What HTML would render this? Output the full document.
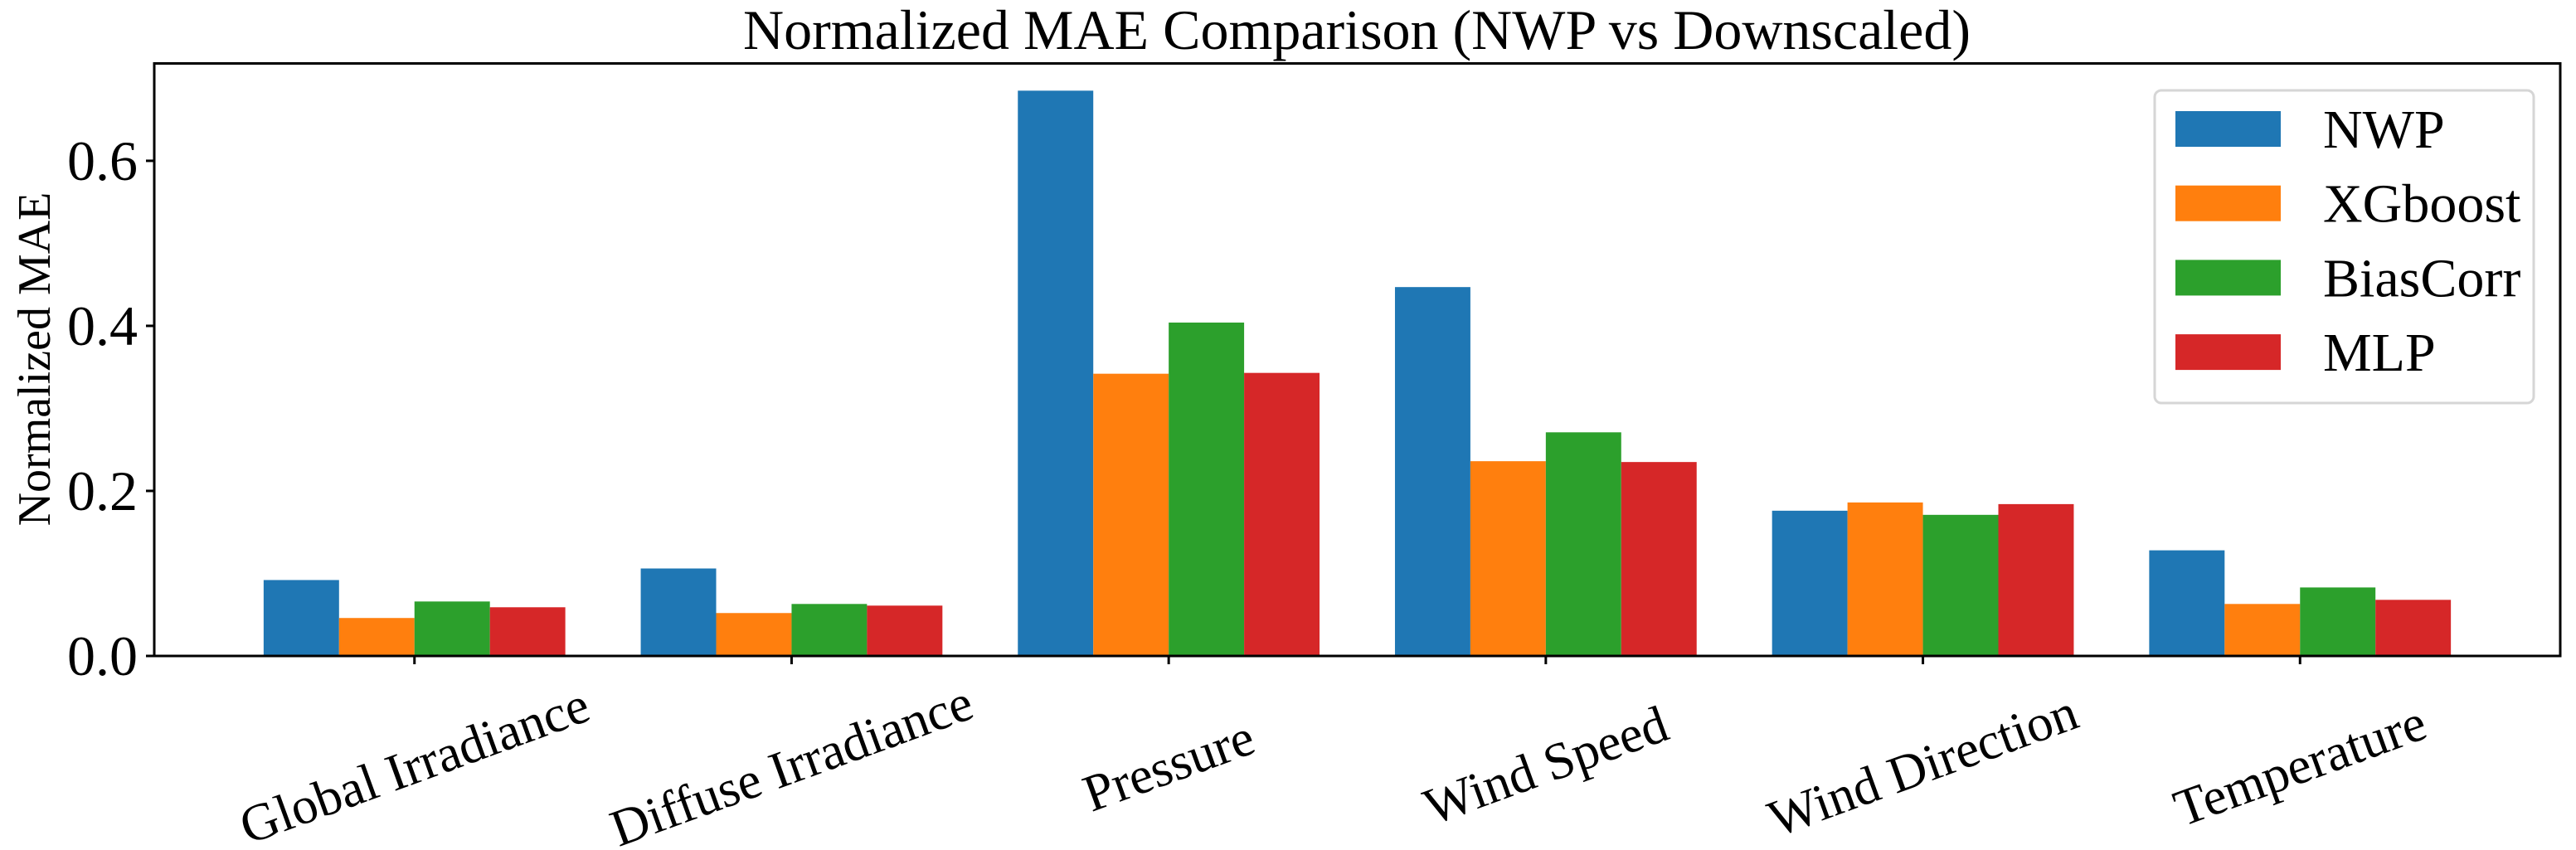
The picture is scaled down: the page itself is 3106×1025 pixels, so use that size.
<!DOCTYPE html>
<html><head><meta charset="utf-8"><style>
html,body{margin:0;padding:0;background:#fff;}
svg{display:block;font-family:"Liberation Serif","DejaVu Serif",serif;}
</style></head><body>
<svg id="chart" width="3106" height="1025" viewBox="0 0 3106 1025" xmlns="http://www.w3.org/2000/svg">
<text x="1636" y="59" font-size="68" text-anchor="middle">Normalized MAE Comparison (NWP vs Downscaled)</text>
<text transform="translate(60,433) rotate(-90)" font-size="56" text-anchor="middle">Normalized MAE</text>
<g id="bars"></g>
<g id="yticks"></g>
<g id="xticks"></g>
<rect x="186" y="76.5" width="2901" height="714.5" fill="none" stroke="#000" stroke-width="3"/>
<g id="legend"></g>
</svg>
<script>
const categories = ["Global Irradiance","Diffuse Irradiance","Pressure","Wind Speed","Wind Direction","Temperature"];
const seriesNames = ["NWP","XGboost","BiasCorr","MLP"];
const nwp = [0.092,0.106,0.685,0.447,0.176,0.128];
const xgboost = [0.046,0.052,0.342,0.236,0.186,0.063];
const biascorr = [0.066,0.063,0.404,0.271,0.171,0.083];
const mlp = [0.059,0.061,0.343,0.235,0.184,0.068];
const yTicks = [0.0,0.2,0.4,0.6];
const yTickLabels = ["0.0","0.2","0.4","0.6"];

const colors = ["#1f77b4","#ff7f0e","#2ca02c","#d62728"];
const series = [nwp,xgboost,biascorr,mlp];
const NS = "http://www.w3.org/2000/svg";
const L=186,R=3087,T=76.5,B=791, yMax=0.718;
const n = categories.length;
const step = (R-L)/(n - 1 + 2*0.69);
const x0 = L + 0.69*step;
function xScale(i){ return x0 + i*step; }
function yScale(v){ return B - v/yMax*(B-T); }
const barW = step*0.2;
function mk(tag, attrs, parent){ const e=document.createElementNS(NS,tag); for(const k in attrs) e.setAttribute(k,attrs[k]); parent.appendChild(e); return e; }
const gb=document.getElementById('bars');
series.forEach((s,si)=>{
  s.forEach((v,i)=>{
    const x = xScale(i) - 2*barW + si*barW;
    const r = mk('rect',{x:x,y:yScale(v),width:barW,height:B-yScale(v),fill:colors[si]},gb);
    
    
  });
});
const gy=document.getElementById('yticks');
yTicks.forEach((t,i)=>{
  const y=yScale(t);
  const l=mk('line',{x1:L-10,x2:L,y1:y,y2:y,stroke:'#000','stroke-width':3},gy);
  
  
  const tx=mk('text',{x:L-20,y:y+23,'font-size':68,'text-anchor':'end'},gy);
  tx.textContent=yTickLabels[i];
  
  
});
const gx=document.getElementById('xticks');
categories.forEach((c,i)=>{
  const x=xScale(i);
  const l=mk('line',{x1:x,x2:x,y1:B,y2:B+10,stroke:'#000','stroke-width':3},gx);
  
  
  const tx=mk('text',{x:x,y:944,'font-size':63,'text-anchor':'middle',transform:`rotate(-20 ${x} 923)`},gx);
  tx.textContent=c;
  
  
});
const lg=document.getElementById('legend');
mk('rect',{x:2598,y:109,width:457,height:377,rx:8,fill:'#fff','fill-opacity':0.8,stroke:'#d6d6d6','stroke-width':3},lg);
seriesNames.forEach((nm,i)=>{
  const y=134+i*89.7;
  const p=mk('rect',{x:2623,y:y,width:127,height:43,fill:colors[i]},lg);
  
  
  const t=mk('text',{x:2801,y:y+44,'font-size':66},lg);
  t.textContent=nm;
  
  
});
</script>
</body></html>
